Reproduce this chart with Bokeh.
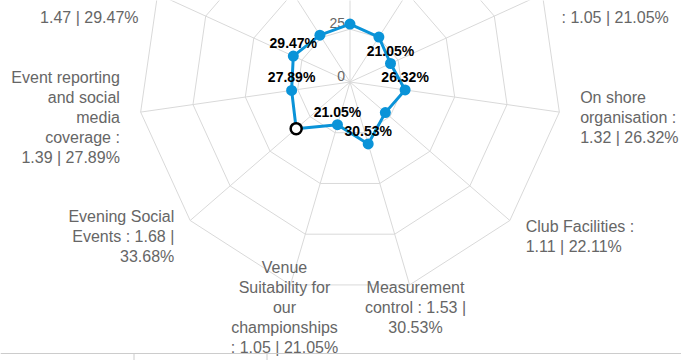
import math
from bokeh.plotting import figure
from bokeh.models import Range1d, ColumnDataSource, Span
from bokeh.core.properties import value
from bokeh.embed import file_html
from bokeh.resources import INLINE

# ---------------- data ----------------
categories = [
    "Race Committee",
    "Jury and protest handling",
    "Information and communication",
    "On shore organisation",
    "Club Facilities",
    "Measurement control",
    "Venue Suitability for our championships",
    "Evening Social Events",
    "Event reporting and social media coverage",
    "Quality of the race management",
    "Safety on the water",
]
scores = [1.37, 1.26, 1.05, 1.32, 1.11, 1.53, 1.05, 1.68, 1.39, 1.47, 1.26]
percents = [27.37, 25.26, 21.05, 26.32, 22.11, 30.53, 21.05, 33.68, 27.89, 29.47, 26.32]
show_data_label = [False, False, True, True, False, True, True, False, True, True, False]
highlighted = 7
radial_ticks = [0, 25, 50, 75, 100]
axis_max = 100

# ---------------- layout ----------------
W, H = 681, 360
CX, CY = 349.5, 81.5        # pane centre in plot pixels
R_PX = 211.5                # pane radius in pixels
S = R_PX / axis_max         # pixels per unit
LABEL_DIST = 21             # px beyond the outer ring
LINE_H = 20                 # px label line height
WRAP_W = 109.5              # px label wrap width
FONT = "Liberation Sans"
GRID = "#d9d9d9"
BLUE = "#0a93d8"

ARIAL = {" ": 278, ":": 278, "|": 260, ".": 278, "%": 889, "-": 333,
         "a": 556, "b": 556, "c": 500, "d": 556, "e": 556, "f": 278, "g": 556,
         "h": 556, "i": 222, "j": 222, "k": 500, "l": 222, "m": 833, "n": 556,
         "o": 556, "p": 556, "q": 556, "r": 333, "s": 500, "t": 278, "u": 556,
         "v": 500, "w": 722, "x": 500, "y": 500, "z": 500,
         "C": 722, "E": 667, "F": 611, "I": 278, "J": 500, "M": 833, "O": 778,
         "Q": 778, "R": 722, "S": 667, "V": 667}


def text_w(s, size):
    return sum(ARIAL.get(ch, 556) for ch in s) * size / 1000.0


def wrap(text, size, max_w):
    lines, cur = [], ""
    for w in text.split(" "):
        cand = w if not cur else cur + " " + w
        if cur and text_w(cand, size) > max_w:
            lines.append(cur)
            cur = w
        else:
            cur = cand
    lines.append(cur)
    return lines


def visible(y_data, half_px=7):
    y_px = CY - y_data * S
    return half_px <= y_px <= H - half_px


n = len(categories)
angles = [2 * math.pi * k / n for k in range(n)]


def polar(r, a):
    return r * math.sin(a), r * math.cos(a)


p = figure(width=W, height=H, output_backend="svg", toolbar_location=None,
           x_range=Range1d(-CX / S, (W - CX) / S),
           y_range=Range1d(-(H - CY) / S, CY / S),
           x_axis_type=None, y_axis_type=None, min_border=0)
p.grid.visible = False
p.outline_line_color = None
p.background_fill_color = "white"
p.border_fill_color = "white"

# spokes
sx, sy = [], []
for a in angles:
    x, y = polar(axis_max, a)
    sx.append([0, x])
    sy.append([0, y])
p.multi_line(sx, sy, line_color=GRID, line_width=1)

# rings
rx, ry = [], []
for t in radial_ticks[1:]:
    pts = [polar(t, a) for a in angles + [angles[0]]]
    rx.append([q[0] for q in pts])
    ry.append([q[1] for q in pts])
p.multi_line(rx, ry, line_color=GRID, line_width=1)

# radial tick labels (on the 0-degree spoke), only those inside the window
tk = [t for t in radial_ticks if visible(t + 6.5 / S)]
p.text(x=[-5 / S] * len(tk),
       y=[t + 6.5 / S for t in tk],
       text=[str(t) for t in tk],
       text_align="right", text_baseline="middle",
       text_font=value(FONT), text_font_size="14px", text_color="#666666")

# series
px_, py_ = [], []
for v, a in zip(percents, angles):
    x, y = polar(v, a)
    px_.append(x)
    py_.append(y)
p.line(px_ + [px_[0]], py_ + [py_[0]], line_color=BLUE, line_width=3)
p.scatter(px_, py_, size=11, fill_color=BLUE, line_color=BLUE, line_width=0)
p.scatter([px_[highlighted]], [py_[highlighted]], size=11, fill_color="white",
          line_color="black", line_width=2.5)

# data labels
dl = ColumnDataSource(dict(
    x=[px_[i] for i in range(n) if show_data_label[i]],
    y=[py_[i] + 13 / S for i in range(n) if show_data_label[i]],
    t=[f"{percents[i]:.2f}%" for i in range(n) if show_data_label[i]],
))
p.text(x="x", y="y", text="t", source=dl, text_align="center",
       text_baseline="middle", text_font=value(FONT), text_font_size="14px",
       text_font_style="bold", text_color="black")

# category labels (one text per wrapped line; lines outside the window skipped)
cx_, cy_, ct_, ca_ = [], [], [], []
for name, sc, pc, a in zip(categories, scores, percents, angles):
    deg = math.degrees(a)
    x, y = polar(axis_max + LABEL_DIST / S, a)
    if 20 < deg < 160:
        al = "left"
    elif 200 < deg < 340:
        al = "right"
    else:
        al = "center"
    lines = wrap(f"{name} : {sc:.2f} | {pc:.2f}%", 16, WRAP_W)
    m = len(lines)
    for i, ln in enumerate(lines):
        yl = y - (2 + (i - (m - 1) / 2) * LINE_H) / S
        if visible(yl):
            cx_.append(x)
            cy_.append(yl)
            ct_.append(ln)
            ca_.append(al)
cl = ColumnDataSource(dict(x=cx_, y=cy_, t=ct_, a=ca_))
p.text(x="x", y="y", text="t", text_align="a", source=cl,
       text_baseline="middle", text_font=value(FONT), text_font_size="16px",
       text_color="#666666")

# border of the element below the chart
y_line = (CY - 353) / S
p.add_layout(Span(location=y_line, dimension="width",
                  line_color="#cccccc", line_width=1))
cols_px = [133.5, 266.5]
p.segment(x0=[(c - CX) / S for c in cols_px], y0=[y_line] * 2,
          x1=[(c - CX) / S for c in cols_px], y1=[(CY - H) / S] * 2,
          line_color="#cccccc", line_width=1)

open("out.html", "w").write(file_html(p, INLINE))
